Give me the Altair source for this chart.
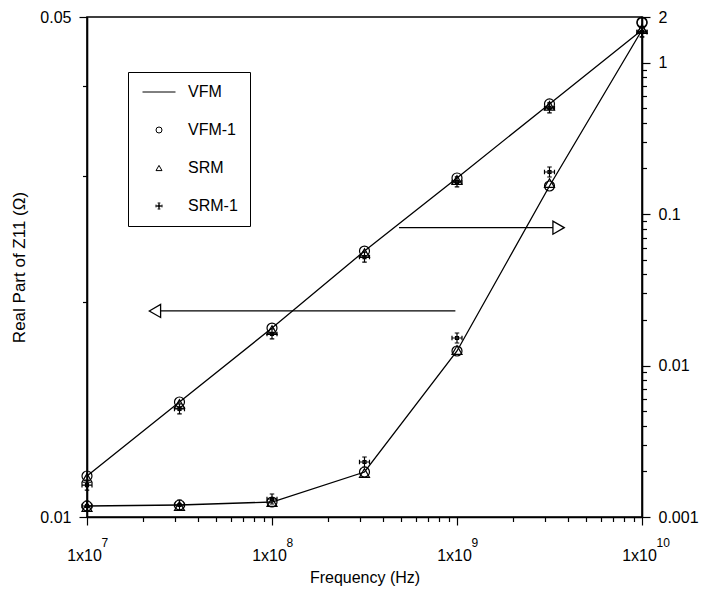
import json
import altair as alt
import pandas as pd

# ---------------- data ----------------
freq = [1e7, 3.162e7, 1e8, 3.162e8, 1e9, 3.162e9, 1e10]

# curve read on the LEFT axis (Real part of Z11, Ohm)
left_vfm = [0.01141, 0.01448, 0.01837, 0.02354, 0.02978, 0.03780, 0.04796]
left_vfm1 = [0.01141, 0.01448, 0.01837, 0.02354, 0.02978, 0.03780, 0.04905]
left_srm = [0.01134, 0.01439, 0.01825, 0.02339, 0.02959, 0.03756, 0.04811]
left_srm1 = [0.01108, 0.01416, 0.01803, 0.02309, 0.02940, 0.03731, 0.04765]

# curve read on the RIGHT axis
right_vfm = [0.001182, 0.001200, 0.001256, 0.001982, 0.01247, 0.1532, 1.641]
right_vfm1 = [0.001182, 0.001200, 0.001256, 0.001982, 0.01247, 0.1532, 1.853]
right_srm = [0.001164, 0.001182, 0.001256, 0.001953, 0.01266, 0.1603, 1.666]
right_srm1 = [0.001182, 0.001200, 0.001315, 0.002307, 0.01520, 0.1896, 1.592]

series_names = ["VFM", "VFM-1", "SRM", "SRM-1"]

# annotation arrows
arrow_left_x = [9.8e8, 2.4e7]
arrow_left_y = [0.01941, 0.01941]
arrow_left_head_x = [2.33e7]
arrow_right_x = [4.86e8, 3.5e9]
arrow_right_y = [0.0813, 0.0813]
arrow_right_head_x = [3.54e9]

# axis ticks / labels
x_major = [1e7, 1e8, 1e9, 1e10]
x_mantissa = ["1x10", "1x10", "1x10", "1x10"]
x_exponent = ["7", "8", "9", "10"]
minor_mult = [2, 3, 4, 5, 6, 7, 8, 9]
left_major = [0.01, 0.05]
left_major_labels = ["0.01", "0.05"]
left_minor = [0.02, 0.03, 0.04]
right_major = [0.001, 0.01, 0.1, 1, 2]
right_major_labels = ["0.001", "0.01", "0.1", "1", "2"]

# ---------------- helpers ----------------
FONT = "Liberation Sans"
BLACK = "#000000"

line_path = "M-5.5,0L5.5,0"
cross_path = ("M0,-1L0,1M-1,0L1,0M-0.45,-1L0.45,-1M-0.45,1L0.45,1"
              "M-1,-0.45L-1,0.45M1,-0.45L1,0.45M-0.3,-0.3L0.3,-0.3L0.3,0.3L-0.3,0.3Z")
shape_scale = alt.Scale(domain=series_names,
                        range=[line_path, "circle", "triangle-up", cross_path])


def label_expr(values, labels):
    expr = "''"
    for v, lab in zip(reversed(values), reversed(labels)):
        expr = f"datum.value == {json.dumps(v)} ? '{lab}' : ({expr})"
    return expr


def tick_size(major):
    return {"condition": {"test": f"indexof({json.dumps(major)}, datum.value) >= 0",
                          "value": 8}, "value": 4.5}


x_values = sorted(x_major + [m * d for d in x_major[:-1] for m in minor_mult])
right_values = sorted(right_major + [m * d for d in right_major[:3] for m in minor_mult])
left_values = sorted(left_major + left_minor)

x_scale = alt.Scale(type="log", domain=[1e7, 1e10], nice=False)

x_enc = alt.X(
    "freq:Q", scale=x_scale,
    axis=alt.Axis(values=x_values, labelExpr=label_expr(x_major, x_mantissa),
                  tickSize=tick_size(x_major), labelPadding=22, labelFontSize=16,
                  labelOffset=-3,
                  title="Frequency (Hz)", titleFontSize=16, titleFontWeight="normal",
                  titleY=52, titleBaseline="top"),
)
x_enc_noaxis = alt.X("freq:Q", scale=x_scale, axis=None)
x_enc_exp = alt.X(
    "freq:Q", scale=x_scale,
    axis=alt.Axis(orient="bottom", values=x_major, labelExpr=label_expr(x_major, x_exponent),
                  ticks=False, domain=False, labelPadding=20, labelFontSize=12,
                  labelAlign="left", labelOffset=14, title=None),
)

legend = alt.Legend(orient="none", legendX=41, legendY=55, title=None,
                    strokeColor=BLACK, fillColor="white", padding=12,
                    symbolSize=36, symbolStrokeWidth=1, symbolStrokeColor=BLACK,
                    symbolFillColor="transparent", symbolOffset=11, labelOffset=21,
                    labelFontSize=16, labelFont=FONT, rowPadding=22,
                    labelExpr="datum.label + '   '")


def long_df(values_by_series):
    rows = []
    for name, vals in values_by_series:
        for f, v in zip(freq, vals):
            rows.append({"freq": f, "value": v, "series": name})
    return pd.DataFrame(rows)


def side_group(xe, y_enc, line_vals, pts, ax_x, ax_y, head_x, head_shape):
    line_df = pd.DataFrame({"freq": freq, "value": line_vals})
    pts_df = long_df(pts)
    arrow_df = pd.DataFrame({"freq": ax_x, "value": ax_y})
    head_df = pd.DataFrame({"freq": head_x, "value": ax_y[:1]})
    line = alt.Chart(line_df).mark_line(color=BLACK, strokeWidth=1.3).encode(x=xe, y=y_enc)
    points = alt.Chart(pts_df).mark_point(filled=False, color=BLACK, size=100,
                                          strokeWidth=1.2, opacity=1).encode(
        x=xe, y=y_enc,
        shape=alt.Shape("series:N", scale=shape_scale, legend=legend))
    arrow = alt.Chart(arrow_df).mark_line(color=BLACK, strokeWidth=1.3).encode(x=xe, y=y_enc)
    head = alt.Chart(head_df).mark_point(shape=head_shape, filled=True, fill="white",
                                         stroke=BLACK, strokeWidth=1.3, size=170,
                                         opacity=1).encode(x=xe, y=y_enc)
    return alt.layer(line, arrow, head, points)


y_left = alt.Y(
    "value:Q",
    scale=alt.Scale(type="log", domain=[0.01, 0.05], nice=False),
    axis=alt.Axis(orient="left", values=left_values,
                  labelExpr=label_expr(left_major, left_major_labels),
                  tickSize=tick_size(left_major), labelPadding=8, labelFontSize=16,
                  title="Real Part of Z11 (\u03a9)", titleFontSize=17,
                  titleFontWeight="normal", titleX=-59),
)
y_right = alt.Y(
    "value:Q",
    scale=alt.Scale(type="log", domain=[0.001, 2], nice=False),
    axis=alt.Axis(orient="right", values=right_values,
                  labelExpr=label_expr(right_major, right_major_labels),
                  tickSize=tick_size(right_major), labelPadding=8, labelFontSize=16,
                  title=None),
)

left_group = side_group(
    x_enc, y_left, left_vfm,
    [("VFM-1", left_vfm1), ("SRM", left_srm), ("SRM-1", left_srm1)],
    arrow_left_x, arrow_left_y, arrow_left_head_x, "triangle-left")

right_group = side_group(
    x_enc_noaxis, y_right, right_vfm,
    [("VFM-1", right_vfm1), ("SRM", right_srm), ("SRM-1", right_srm1)],
    arrow_right_x, arrow_right_y, arrow_right_head_x, "triangle-right")

exp_layer = alt.Chart(pd.DataFrame({"freq": x_major})).mark_rule(opacity=0).encode(x=x_enc_exp)

chart = (
    alt.layer(left_group, right_group, exp_layer)
    .resolve_scale(y="independent")
    .resolve_axis(x="independent")
    .properties(width=555, height=500,
                autosize=alt.AutoSizeParams(type="none"),
                padding={"left": 87, "top": 17, "right": 61, "bottom": 77})
    .configure(font=FONT, background="white")
    .configure_view(stroke=BLACK, strokeWidth=1.6)
    .configure_axis(grid=False, domainColor=BLACK, domainWidth=1.6, tickColor=BLACK,
                    tickWidth=1.2, labelColor=BLACK, titleColor=BLACK, labelFont=FONT,
                    titleFont=FONT, labelFlush=False, labelOverlap=False)
)

chart.save("out.html", embed_options={"renderer": "svg", "actions": False})
